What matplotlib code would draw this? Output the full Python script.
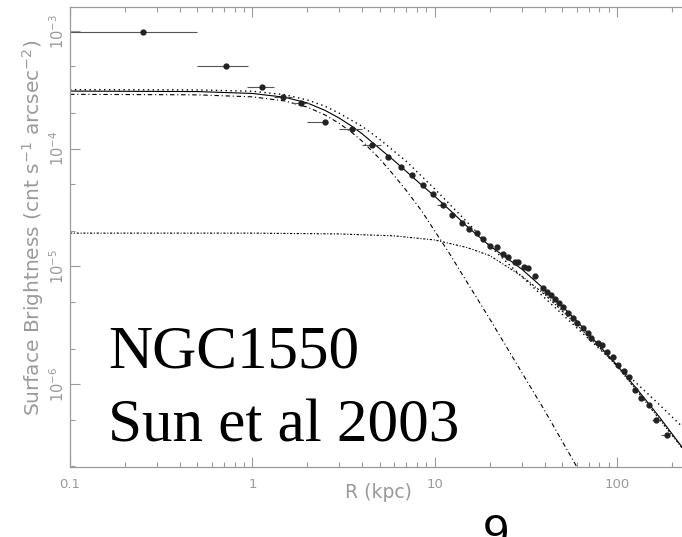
import matplotlib
matplotlib.use("Agg")
import matplotlib.pyplot as plt
from matplotlib.ticker import LogLocator, NullFormatter, FixedLocator, FixedFormatter

# radial profile points (kpc, cnt s^-1 arcsec^-2)
r_data = [0.251, 0.716, 1.13, 1.47, 1.85, 2.49, 3.51, 4.52, 5.52, 6.52,
          7.48, 8.59, 9.75, 11.1, 12.4, 14.1, 15.4, 17.0, 18.3, 20.0,
          21.9, 23.6, 25.1, 27.4, 28.8, 30.7, 32.4, 35.3, 39.1, 41.1,
          43.3, 45.5, 47.8, 50.3, 53.5, 57.0, 60.0, 64.7, 68.9, 72.4,
          78.2, 82.2, 87.5, 94.4, 101, 109, 116, 125, 136, 149,
          164, 187]
sb_data = [9.8e-4, 5.05e-4, 3.34e-4, 2.75e-4, 2.44e-4, 1.69e-4, 1.47e-4, 1.07e-4, 8.5e-5, 7.0e-5,
           6.0e-5, 4.92e-5, 4.12e-5, 3.33e-5, 2.74e-5, 2.34e-5, 2.08e-5, 1.92e-5, 1.71e-5, 1.49e-5,
           1.46e-5, 1.27e-5, 1.20e-5, 1.09e-5, 1.09e-5, 9.9e-6, 9.7e-6, 8.3e-6, 6.55e-6, 6.05e-6,
           5.71e-6, 5.28e-6, 4.89e-6, 4.52e-6, 4.02e-6, 3.65e-6, 3.31e-6, 3.00e-6, 2.72e-6, 2.47e-6,
           2.24e-6, 2.15e-6, 1.87e-6, 1.70e-6, 1.45e-6, 1.29e-6, 1.15e-6, 8.9e-7, 7.6e-7, 6.65e-7,
           4.96e-7, 3.69e-7]

# bin edges of the points with visible bars
bar_r = [0.251, 0.716, 1.13, 1.47, 1.85, 2.49, 3.51, 4.52, 11.1, 164, 187]
bar_sb = [9.8e-4, 5.05e-4, 3.34e-4, 2.75e-4, 2.44e-4, 1.69e-4, 1.47e-4, 1.07e-4, 3.33e-5, 4.96e-7, 3.69e-7]
bar_lo = [0.1, 0.5, 0.93, 1.31, 1.65, 2.0, 3.0, 4.0, 10.3, 155, 175]
bar_hi = [0.5, 0.95, 1.31, 1.65, 2.05, 2.6, 4.0, 5.1, 11.6, 168, 192]

# model curves
r_tot = [0.1, 0.5, 1, 1.5, 2, 2.5, 3, 3.5, 4, 5, 6, 7, 8.5, 10, 12, 15, 20, 25, 30, 40, 50, 60, 80,
         100, 130, 170, 230]
sb_tot = [3.09e-4, 3.06e-4, 2.95e-4, 2.74e-4, 2.45e-4, 2.12e-4, 1.82e-4, 1.56e-4, 1.34e-4, 1.0e-4,
          7.9e-5, 6.4e-5, 4.9e-5, 3.95e-5, 3.05e-5, 2.2e-5, 1.5e-5, 1.17e-5, 9.5e-6, 6.4e-6, 4.6e-6,
          3.45e-6, 2.12e-6, 1.45e-6, 8.9e-7, 5.3e-7, 2.85e-7]

r_single = [0.1, 0.5, 1, 1.5, 2, 2.5, 3, 4, 5, 7, 10, 15, 20, 30, 50, 70, 100, 150, 230]
sb_single = [3.18e-4, 3.16e-4, 3.08e-4, 2.88e-4, 2.6e-4, 2.3e-4, 2.0e-4, 1.55e-4, 1.2e-4, 7.8e-5,
             4.55e-5, 2.4e-5, 1.5e-5, 8.2e-6, 3.93e-6, 2.42e-6, 1.45e-6, 8.1e-7, 4.3e-7]

r_inner = [0.1, 0.5, 1, 1.5, 2, 2.5, 3, 3.5, 4, 5, 6, 7, 8.5, 10, 12, 15, 20, 30, 40, 60]
sb_inner = [2.9e-4, 2.87e-4, 2.76e-4, 2.55e-4, 2.26e-4, 1.94e-4, 1.64e-4, 1.38e-4, 1.16e-4, 8.2e-5,
            5.9e-5, 4.4e-5, 2.95e-5, 2.0e-5, 1.3e-5, 7.4e-6, 3.6e-6, 1.26e-6, 6.0e-7, 2.0e-7]

r_outer = [0.1, 1, 3, 6, 10, 15, 20, 30, 40, 60, 80, 100, 150, 230]
sb_outer = [1.92e-5, 1.92e-5, 1.89e-5, 1.82e-5, 1.68e-5, 1.45e-5, 1.24e-5, 8.3e-6, 5.8e-6,
            3.2e-6, 2.05e-6, 1.42e-6, 6.5e-7, 2.8e-7]

W, H = 682, 537
fig = plt.figure(figsize=(W / 100, H / 100), dpi=100)
ax = fig.add_axes([70 / W, 1 - 467 / H, 612 / W, 460 / H])

grey = '#9a9a9a'

ax.plot(r_tot, sb_tot, color='black', lw=0.8, ls='-')
ax.plot(r_single, sb_single, color='black', lw=1.0, ls=(0, (1, 2.5)))
ax.plot(r_inner, sb_inner, color='black', lw=0.8, ls=(0, (4, 2.5, 1, 2.5)))
ax.plot(r_outer, sb_outer, color='black', lw=0.8, ls=(0, (2, 1.5, 1, 1.5)))

xerr = [[r - lo for r, lo in zip(bar_r, bar_lo)], [hi - r for r, hi in zip(bar_r, bar_hi)]]
ax.errorbar(bar_r, bar_sb, xerr=xerr, fmt='none', ecolor='#555555', elinewidth=0.8)
ax.plot(r_data, sb_data, 'o', color='#222222', ms=3.5, mec='#222222')

ax.set_xscale('log')
ax.set_yscale('log')
ax.set_xlim(0.1, 227)
ax.set_ylim(1.98e-7, 1.6e-3)

# axes look
for side in ['left', 'bottom', 'top']:
    ax.spines[side].set_color(grey)
    ax.spines[side].set_linewidth(0.9)
ax.spines['right'].set_visible(False)

ax.xaxis.set_major_locator(FixedLocator([0.1, 1, 10, 100]))
ax.xaxis.set_major_formatter(FixedFormatter(['0.1', '1', '10', '100']))
ax.xaxis.set_minor_locator(LogLocator(base=10, subs=range(2, 10), numticks=20))
ax.xaxis.set_minor_formatter(NullFormatter())
ax.yaxis.set_major_locator(FixedLocator([1e-6, 1e-5, 1e-4, 1e-3]))
ax.yaxis.set_major_formatter(FixedFormatter([r'$10^{-6}$', r'$10^{-5}$', r'$10^{-4}$', r'$10^{-3}$']))
ax.yaxis.set_minor_locator(LogLocator(base=10, subs=(2, 5), numticks=20))
ax.yaxis.set_minor_formatter(NullFormatter())

ax.tick_params(which='both', direction='in', color=grey, top=True, right=False,
               labelcolor=grey)
ax.tick_params(which='major', length=7, width=0.8)
ax.tick_params(which='minor', length=3.5, width=0.8)
ax.tick_params(axis='x', labelsize=9.5, pad=8)
ax.tick_params(axis='y', labelsize=10.5, pad=2)
for lab in ax.get_yticklabels():
    lab.set_rotation(90)
    lab.set_va('center')

fig.text(378 / W, 1 - 493 / H, 'R (kpc)', color=grey, fontsize=13.5, ha='center', va='center')
fig.text(33 / W, 1 - 228 / H, r'Surface Brightness (cnt s$^{-1}$ arcsec$^{-2}$)',
         color=grey, fontsize=14.5, rotation=90, ha='center', va='center')

# slide annotation
fig.text(108 / W, 1 - 367 / H, 'NGC1550', family='Liberation Serif', fontsize=44,
         color='black', va='baseline')
fig.text(108 / W, 1 - 442 / H, 'Sun et al 2003', family='Liberation Serif', fontsize=44,
         color='black', va='baseline')
fig.text(496 / W, 1 - 513 / H, '9', family='Liberation Sans', fontsize=34,
         color='black', ha='center', va='top')

plt.savefig('out.png', dpi=100)
